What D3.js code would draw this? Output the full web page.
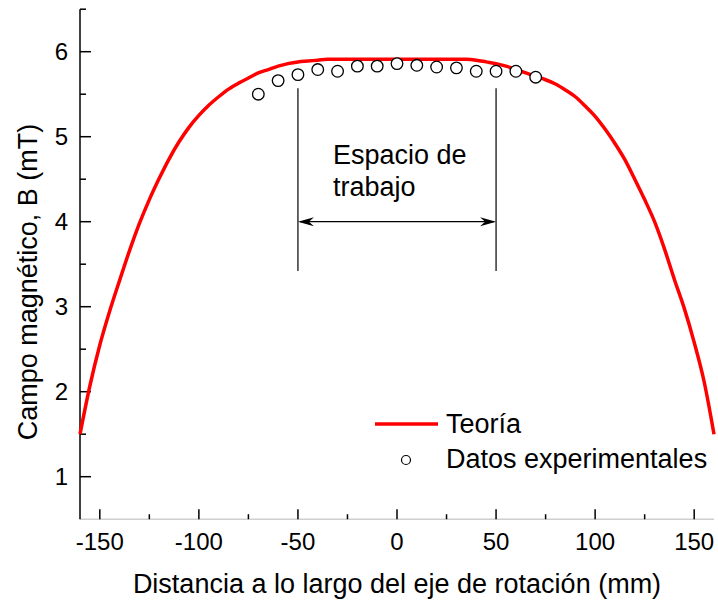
<!DOCTYPE html>
<html>
<head>
<meta charset="utf-8">
<script src="https://cdn.jsdelivr.net/npm/d3@7"></script>
<style>
  html, body { margin: 0; padding: 0; background: #fff; }
  svg text { font-family: Arial, "Liberation Sans", sans-serif; fill: #000; }
</style>
</head>
<body>
<svg id="chart" width="718" height="605"></svg>
<script>
// ---- data ----
const theoryX = [-160,-155,-150,-145,-140,-135,-130,-125,-120,-115,-110,-105,-100,-95,-90,-85,-80,-75,-70,-65,-60,-55,-50,-45,-40,-35,-30,-20,-10,0,10,20,30,35,40,45,50,55,60,65,70,75,80,85,90,95,100,105,110,115,120,125,130,135,140,145,150,155,160];
const theoryB = [1.50,2.07,2.55,2.95,3.31,3.66,3.98,4.26,4.51,4.74,4.94,5.11,5.25,5.37,5.47,5.56,5.63,5.69,5.75,5.79,5.83,5.86,5.88,5.89,5.90,5.91,5.91,5.91,5.91,5.91,5.91,5.91,5.91,5.91,5.90,5.88,5.86,5.83,5.79,5.75,5.71,5.67,5.62,5.55,5.47,5.36,5.24,5.09,4.92,4.73,4.50,4.26,4.00,3.68,3.32,2.98,2.58,2.12,1.50];
const expX = [-70,-60,-50,-40,-30,-20,-10,0,10,20,30,40,50,60,70];
const expB = [5.50,5.66,5.73,5.79,5.77,5.83,5.83,5.86,5.84,5.82,5.81,5.77,5.77,5.77,5.70];
const xTicks = [-150,-100,-50,0,50,100,150];
const xMinorTicks = [-125,-75,-25,25,75,125];
const yTicks = [1,2,3,4,5,6];
const yMinorTicks = [1.5,2.5,3.5,4.5,5.5,6.5];
const workLimits = [-50, 50];
const xTitle = "Distancia a lo largo del eje de rotación (mm)";
const yTitle = "Campo magnético, B (mT)";
const annotationLines = ["Espacio de", "trabajo"];
const legendLabels = ["Teoría", "Datos experimentales"];

// ---- layout ----
const svg = d3.select("#chart");
const x = d3.scaleLinear().domain([-160, 160]).range([80, 714]);
const y = d3.scaleLinear().domain([0.5, 6.5]).range([519.2, 9.2]);
const tickFont = 24, titleFont = 27;

// x axis
const xAxisG = svg.append("g").attr("transform", `translate(0,${y(0.5)})`);
xAxisG.append("line").attr("x1", x(-160)).attr("x2", x(160)).attr("y1", 0).attr("y2", 0)
  .attr("stroke", "#cfcfcf").attr("stroke-width", 1.5);
xAxisG.selectAll(".xt").data(xTicks).join("line")
  .attr("x1", d => x(d)).attr("x2", d => x(d)).attr("y1", 0).attr("y2", -10)
  .attr("stroke", "#000").attr("stroke-width", 1.5);
xAxisG.selectAll(".xm").data(xMinorTicks).join("line")
  .attr("x1", d => x(d)).attr("x2", d => x(d)).attr("y1", 0).attr("y2", -5)
  .attr("stroke", "#000").attr("stroke-width", 1.5);
xAxisG.selectAll(".xl").data(xTicks).join("text")
  .attr("x", d => x(d)).attr("y", 31).attr("text-anchor", "middle")
  .attr("font-size", tickFont).text(d => d);

// y axis
const yAxisG = svg.append("g").attr("transform", `translate(${x(-160)},0)`);
yAxisG.append("line").attr("x1", 0).attr("x2", 0).attr("y1", y(6.5)).attr("y2", y(0.5))
  .attr("stroke", "#000").attr("stroke-width", 1.5);
yAxisG.selectAll(".yt").data(yTicks).join("line")
  .attr("x1", 0).attr("x2", 11).attr("y1", d => y(d)).attr("y2", d => y(d))
  .attr("stroke", "#000").attr("stroke-width", 1.5);
yAxisG.selectAll(".ym").data(yMinorTicks).join("line")
  .attr("x1", 0).attr("x2", 6).attr("y1", d => y(d)).attr("y2", d => y(d))
  .attr("stroke", "#000").attr("stroke-width", 1.5);
yAxisG.selectAll(".yl").data(yTicks).join("text")
  .attr("x", -12).attr("y", d => y(d)).attr("dy", "0.36em").attr("text-anchor", "end")
  .attr("font-size", tickFont).text(d => d);

// titles
svg.append("text").attr("x", 397).attr("y", 593).attr("text-anchor", "middle")
  .attr("font-size", titleFont).text(xTitle);
svg.append("text").attr("transform", `translate(37,${282}) rotate(-90)`).attr("text-anchor", "middle")
  .attr("font-size", titleFont).text(yTitle);

// theory line
const line = d3.line().x((d, i) => x(theoryX[i])).y(d => y(d)).curve(d3.curveMonotoneX);
svg.append("path").datum(theoryB).attr("d", line)
  .attr("fill", "none").attr("stroke", "#ff0000").attr("stroke-width", 3.5);

// experimental points
svg.selectAll(".pt").data(expB).join("circle")
  .attr("cx", (d, i) => x(expX[i])).attr("cy", d => y(d)).attr("r", 5.8)
  .attr("fill", "#fff").attr("stroke", "#000").attr("stroke-width", 1.3);

// working space annotation
svg.selectAll(".wl").data(workLimits).join("line")
  .attr("x1", d => x(d)).attr("x2", d => x(d)).attr("y1", y(5.57)).attr("y2", y(3.42))
  .attr("stroke", "#000").attr("stroke-width", 1.2);
const ay = y(4.0);
const ax0 = x(workLimits[0]), ax1 = x(workLimits[1]);
svg.append("line").attr("x1", ax0 + 2).attr("x2", ax1 - 2).attr("y1", ay).attr("y2", ay)
  .attr("stroke", "#000").attr("stroke-width", 1.3);
svg.append("path")
  .attr("d", `M${ax0},${ay} L${ax0 + 16},${ay - 4.5} L${ax0 + 11},${ay} L${ax0 + 16},${ay + 4.5} Z`)
  .attr("fill", "#000");
svg.append("path")
  .attr("d", `M${ax1},${ay} L${ax1 - 16},${ay - 4.5} L${ax1 - 11},${ay} L${ax1 - 16},${ay + 4.5} Z`)
  .attr("fill", "#000");
svg.selectAll(".ann").data(annotationLines).join("text")
  .attr("x", 333).attr("y", (d, i) => 164 + i * 32)
  .attr("font-size", titleFont).text(d => d);

// legend
svg.append("line").attr("x1", 375).attr("x2", 438).attr("y1", 424).attr("y2", 424)
  .attr("stroke", "#ff0000").attr("stroke-width", 3.5);
svg.append("circle").attr("cx", 406).attr("cy", 460).attr("r", 4.5)
  .attr("fill", "#fff").attr("stroke", "#000").attr("stroke-width", 1.2);
svg.selectAll(".leg").data(legendLabels).join("text")
  .attr("x", 446).attr("y", (d, i) => 433 + i * 35)
  .attr("font-size", titleFont).text(d => d);
</script>
</body>
</html>
